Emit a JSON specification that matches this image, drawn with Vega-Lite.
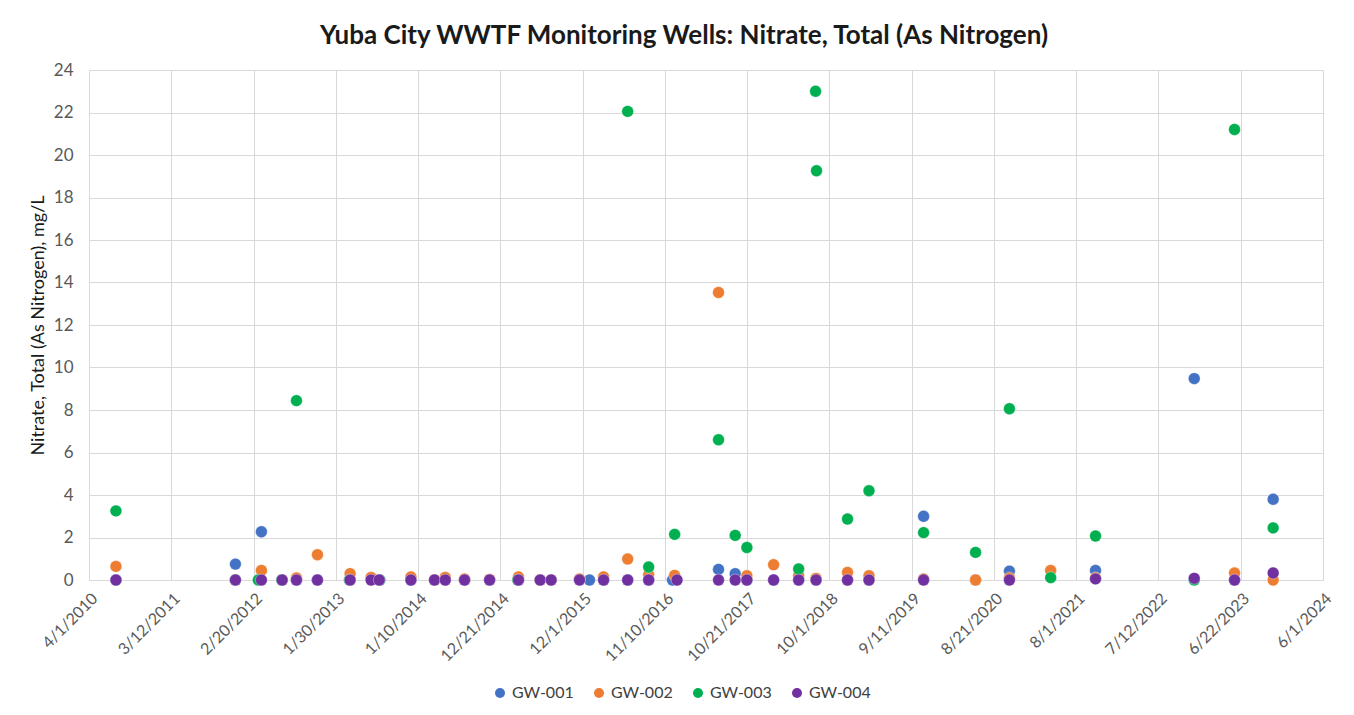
{
  "$schema": "https://vega.github.io/schema/vega-lite/v6.json",
  "width": 1234,
  "height": 510,
  "autosize": {"type": "none"},
  "padding": {"left": 89, "top": 70, "right": 31, "bottom": 135},
  "background": "white",
  "title": {
    "text": "Yuba City WWTF Monitoring Wells: Nitrate, Total (As Nitrogen)",
    "font": "Lato",
    "fontSize": 26,
    "fontWeight": "bold",
    "color": "#1a1a1a",
    "anchor": "middle",
    "dx": -22,
    "offset": 12
  },
  "config": {
    "font": "Lato",
    "view": {"stroke": null},
    "axis": {
      "gridColor": "#d9d9d9",
      "gridWidth": 1,
      "labelColor": "#595959",
      "titleColor": "#1a1a1a",
      "labelFont": "Lato",
      "titleFont": "Lato"
    }
  },
  "data": {
    "values": [
      {"d": "2010-07-23", "w": "GW-001", "v": 0},
      {"d": "2011-12-06", "w": "GW-001", "v": 0.75},
      {"d": "2012-03-24", "w": "GW-001", "v": 2.27},
      {"d": "2012-06-19", "w": "GW-001", "v": 0},
      {"d": "2012-08-18", "w": "GW-001", "v": 0},
      {"d": "2012-11-14", "w": "GW-001", "v": 0},
      {"d": "2013-03-31", "w": "GW-001", "v": 0},
      {"d": "2013-07-31", "w": "GW-001", "v": 0},
      {"d": "2013-12-11", "w": "GW-001", "v": 0},
      {"d": "2014-03-20", "w": "GW-001", "v": 0},
      {"d": "2014-05-04", "w": "GW-001", "v": 0},
      {"d": "2014-07-24", "w": "GW-001", "v": 0},
      {"d": "2014-11-06", "w": "GW-001", "v": 0},
      {"d": "2015-03-07", "w": "GW-001", "v": 0},
      {"d": "2015-06-06", "w": "GW-001", "v": 0},
      {"d": "2015-07-22", "w": "GW-001", "v": 0},
      {"d": "2015-12-30", "w": "GW-001", "v": 0},
      {"d": "2016-02-27", "w": "GW-001", "v": 0},
      {"d": "2016-06-07", "w": "GW-001", "v": 0},
      {"d": "2016-09-03", "w": "GW-001", "v": 0},
      {"d": "2016-12-12", "w": "GW-001", "v": 0},
      {"d": "2017-06-23", "w": "GW-001", "v": 0.5},
      {"d": "2017-09-01", "w": "GW-001", "v": 0.3},
      {"d": "2017-10-20", "w": "GW-001", "v": 0},
      {"d": "2018-02-09", "w": "GW-001", "v": 0},
      {"d": "2018-05-25", "w": "GW-001", "v": 0},
      {"d": "2018-08-06", "w": "GW-001", "v": 0},
      {"d": "2018-12-16", "w": "GW-001", "v": 0},
      {"d": "2019-03-16", "w": "GW-001", "v": 0},
      {"d": "2019-10-31", "w": "GW-001", "v": 3.0},
      {"d": "2020-06-05", "w": "GW-001", "v": 0},
      {"d": "2020-10-25", "w": "GW-001", "v": 0.42},
      {"d": "2021-10-21", "w": "GW-001", "v": 0.45},
      {"d": "2022-12-09", "w": "GW-001", "v": 9.48},
      {"d": "2023-05-27", "w": "GW-001", "v": 0},
      {"d": "2023-11-05", "w": "GW-001", "v": 3.8},

      {"d": "2010-07-23", "w": "GW-002", "v": 0.64},
      {"d": "2011-12-06", "w": "GW-002", "v": 0},
      {"d": "2012-03-24", "w": "GW-002", "v": 0.45},
      {"d": "2012-06-19", "w": "GW-002", "v": 0},
      {"d": "2012-08-18", "w": "GW-002", "v": 0.1},
      {"d": "2012-11-14", "w": "GW-002", "v": 1.19},
      {"d": "2013-03-31", "w": "GW-002", "v": 0.3},
      {"d": "2013-06-27", "w": "GW-002", "v": 0.12},
      {"d": "2013-12-11", "w": "GW-002", "v": 0.15},
      {"d": "2014-03-20", "w": "GW-002", "v": 0},
      {"d": "2014-05-04", "w": "GW-002", "v": 0.12},
      {"d": "2014-07-24", "w": "GW-002", "v": 0.05},
      {"d": "2014-11-06", "w": "GW-002", "v": 0.03},
      {"d": "2015-03-07", "w": "GW-002", "v": 0.15},
      {"d": "2015-06-06", "w": "GW-002", "v": 0},
      {"d": "2015-07-22", "w": "GW-002", "v": 0},
      {"d": "2015-11-18", "w": "GW-002", "v": 0.05},
      {"d": "2016-02-27", "w": "GW-002", "v": 0.15},
      {"d": "2016-06-07", "w": "GW-002", "v": 0.99},
      {"d": "2016-09-03", "w": "GW-002", "v": 0.25},
      {"d": "2016-12-21", "w": "GW-002", "v": 0.22},
      {"d": "2017-06-23", "w": "GW-002", "v": 13.53},
      {"d": "2017-10-20", "w": "GW-002", "v": 0.2},
      {"d": "2018-02-09", "w": "GW-002", "v": 0.72},
      {"d": "2018-05-25", "w": "GW-002", "v": 0.2},
      {"d": "2018-08-06", "w": "GW-002", "v": 0.08},
      {"d": "2018-12-16", "w": "GW-002", "v": 0.36},
      {"d": "2019-03-16", "w": "GW-002", "v": 0.2},
      {"d": "2019-10-31", "w": "GW-002", "v": 0.05},
      {"d": "2020-06-05", "w": "GW-002", "v": 0},
      {"d": "2020-10-25", "w": "GW-002", "v": 0.1},
      {"d": "2021-04-16", "w": "GW-002", "v": 0.45},
      {"d": "2021-10-21", "w": "GW-002", "v": 0.1},
      {"d": "2023-05-27", "w": "GW-002", "v": 0.33},
      {"d": "2023-11-05", "w": "GW-002", "v": 0},

      {"d": "2010-07-23", "w": "GW-003", "v": 3.25},
      {"d": "2011-12-06", "w": "GW-003", "v": 0},
      {"d": "2012-03-11", "w": "GW-003", "v": 0},
      {"d": "2012-06-17", "w": "GW-003", "v": 0},
      {"d": "2012-08-18", "w": "GW-003", "v": 8.44},
      {"d": "2013-03-28", "w": "GW-003", "v": 0},
      {"d": "2013-08-03", "w": "GW-003", "v": 0},
      {"d": "2015-03-04", "w": "GW-003", "v": 0},
      {"d": "2016-06-07", "w": "GW-003", "v": 22.05},
      {"d": "2016-09-03", "w": "GW-003", "v": 0.61},
      {"d": "2016-12-21", "w": "GW-003", "v": 2.15},
      {"d": "2017-06-23", "w": "GW-003", "v": 6.6},
      {"d": "2017-09-01", "w": "GW-003", "v": 2.1},
      {"d": "2017-10-20", "w": "GW-003", "v": 1.53},
      {"d": "2018-05-25", "w": "GW-003", "v": 0.52},
      {"d": "2018-08-04", "w": "GW-003", "v": 23.0},
      {"d": "2018-08-08", "w": "GW-003", "v": 19.26},
      {"d": "2018-12-16", "w": "GW-003", "v": 2.87},
      {"d": "2019-03-16", "w": "GW-003", "v": 4.2},
      {"d": "2019-10-31", "w": "GW-003", "v": 2.23},
      {"d": "2020-06-05", "w": "GW-003", "v": 1.3},
      {"d": "2020-10-25", "w": "GW-003", "v": 8.06},
      {"d": "2021-04-16", "w": "GW-003", "v": 0.11},
      {"d": "2021-10-21", "w": "GW-003", "v": 2.07},
      {"d": "2022-12-09", "w": "GW-003", "v": 0},
      {"d": "2023-05-27", "w": "GW-003", "v": 21.2},
      {"d": "2023-11-05", "w": "GW-003", "v": 2.45},

      {"d": "2010-07-23", "w": "GW-004", "v": 0},
      {"d": "2011-12-06", "w": "GW-004", "v": 0},
      {"d": "2012-03-24", "w": "GW-004", "v": 0},
      {"d": "2012-06-19", "w": "GW-004", "v": 0},
      {"d": "2012-08-18", "w": "GW-004", "v": 0},
      {"d": "2012-11-14", "w": "GW-004", "v": 0},
      {"d": "2013-03-31", "w": "GW-004", "v": 0},
      {"d": "2013-06-27", "w": "GW-004", "v": 0},
      {"d": "2013-07-31", "w": "GW-004", "v": 0},
      {"d": "2013-12-11", "w": "GW-004", "v": 0},
      {"d": "2014-03-20", "w": "GW-004", "v": 0},
      {"d": "2014-05-04", "w": "GW-004", "v": 0},
      {"d": "2014-07-24", "w": "GW-004", "v": 0},
      {"d": "2014-11-06", "w": "GW-004", "v": 0},
      {"d": "2015-03-07", "w": "GW-004", "v": 0},
      {"d": "2015-06-06", "w": "GW-004", "v": 0},
      {"d": "2015-07-22", "w": "GW-004", "v": 0},
      {"d": "2015-11-18", "w": "GW-004", "v": 0},
      {"d": "2016-02-27", "w": "GW-004", "v": 0},
      {"d": "2016-06-07", "w": "GW-004", "v": 0},
      {"d": "2016-09-03", "w": "GW-004", "v": 0},
      {"d": "2016-12-31", "w": "GW-004", "v": 0},
      {"d": "2017-06-23", "w": "GW-004", "v": 0},
      {"d": "2017-09-01", "w": "GW-004", "v": 0},
      {"d": "2017-10-20", "w": "GW-004", "v": 0},
      {"d": "2018-02-09", "w": "GW-004", "v": 0},
      {"d": "2018-05-25", "w": "GW-004", "v": 0},
      {"d": "2018-08-06", "w": "GW-004", "v": 0},
      {"d": "2018-12-16", "w": "GW-004", "v": 0},
      {"d": "2019-03-16", "w": "GW-004", "v": 0},
      {"d": "2019-10-31", "w": "GW-004", "v": 0},
      {"d": "2020-10-25", "w": "GW-004", "v": 0},
      {"d": "2021-10-21", "w": "GW-004", "v": 0.05},
      {"d": "2022-12-09", "w": "GW-004", "v": 0.08},
      {"d": "2023-05-27", "w": "GW-004", "v": 0},
      {"d": "2023-11-05", "w": "GW-004", "v": 0.33}
    ]
  },
  "mark": {"type": "point", "filled": true, "opacity": 1, "size": 140, "shape": "circle", "stroke": "white", "strokeWidth": 0.6, "strokeOpacity": 0.6},
  "encoding": {
    "x": {
      "field": "d",
      "type": "temporal",
      "scale": {
        "type": "utc",
        "domain": [
          {"year": 2010, "month": 4, "date": 1, "utc": true},
          {"year": 2024, "month": 6, "date": 1, "utc": true}
        ]
      },
      "axis": {
        "title": null,
        "values": [
          {"year": 2010, "month": 4, "date": 1, "utc": true},
          {"year": 2011, "month": 3, "date": 12, "utc": true},
          {"year": 2012, "month": 2, "date": 20, "utc": true},
          {"year": 2013, "month": 1, "date": 30, "utc": true},
          {"year": 2014, "month": 1, "date": 10, "utc": true},
          {"year": 2014, "month": 12, "date": 21, "utc": true},
          {"year": 2015, "month": 12, "date": 1, "utc": true},
          {"year": 2016, "month": 11, "date": 10, "utc": true},
          {"year": 2017, "month": 10, "date": 21, "utc": true},
          {"year": 2018, "month": 10, "date": 1, "utc": true},
          {"year": 2019, "month": 9, "date": 11, "utc": true},
          {"year": 2020, "month": 8, "date": 21, "utc": true},
          {"year": 2021, "month": 8, "date": 1, "utc": true},
          {"year": 2022, "month": 7, "date": 12, "utc": true},
          {"year": 2023, "month": 6, "date": 22, "utc": true},
          {"year": 2024, "month": 6, "date": 1, "utc": true}
        ],
        "format": "%-m/%-d/%Y",
        "labelAngle": -45,
        "labelAlign": "right",
        "labelBaseline": "top",
        "labelFontSize": 16,
        "labelPadding": 10,
        "ticks": false,
        "tickSize": 0,
        "domain": true,
        "domainColor": "#d9d9d9",
        "grid": true,
        "labelOverlap": false,
        "labelFlush": false
      }
    },
    "y": {
      "field": "v",
      "type": "quantitative",
      "scale": {"domain": [0, 24], "nice": false, "zero": true},
      "axis": {
        "title": "Nitrate, Total (As Nitrogen), mg/L",
        "titleFontSize": 18,
        "titleFontWeight": "normal",
        "titlePadding": 6,
        "values": [0, 2, 4, 6, 8, 10, 12, 14, 16, 18, 20, 22, 24],
        "format": "d",
        "labelFontSize": 17,
        "labelPadding": 16,
        "ticks": false,
        "tickSize": 0,
        "domain": false,
        "grid": true
      }
    },
    "color": {
      "field": "w",
      "type": "nominal",
      "scale": {
        "domain": ["GW-001", "GW-002", "GW-003", "GW-004"],
        "range": ["#4472C4", "#ED7D31", "#00B050", "#7030A0"]
      },
      "legend": {
        "title": null,
        "orient": "none",
        "legendX": 403,
        "legendY": 615,
        "direction": "horizontal",
        "symbolType": "circle",
        "symbolSize": 100,
        "symbolStrokeWidth": 0,
        "labelFontSize": 16,
        "labelColor": "#404040",
        "columnPadding": 17,
        "labelOffset": 4
      }
    }
  }
}
